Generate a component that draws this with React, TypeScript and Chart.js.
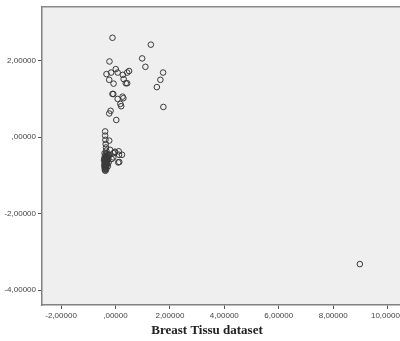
import React, { useEffect, useRef } from "react";
import { Chart, registerables } from "chart.js";

Chart.register(...registerables);

const X_TICKS = [-2, 0, 2, 4, 6, 8, 10];
const Y_TICKS = [-4, -2, 0, 2];
const TITLE = "Breast Tissu dataset";

const upperX = [-0.11, 1.3, -0.22, 0.98, 1.1, 1.75, 1.65, 1.52, 1.76, -0.33, -0.16, 0.01, 0.08, 0.27, 0.43, 0.5, -0.23, -0.07, 0.3, 0.38, 0.43, -0.11, -0.08, 0.08, 0.26, 0.29, 0.18, 0.21, -0.18, -0.23, 0.03];
const upperY = [2.6, 2.42, 1.98, 2.06, 1.84, 1.69, 1.5, 1.31, 0.79, 1.65, 1.69, 1.78, 1.69, 1.63, 1.69, 1.73, 1.5, 1.4, 1.52, 1.41, 1.41, 1.13, 1.13, 1.0, 1.06, 1.02, 0.87, 0.81, 0.69, 0.62, 0.45];

const lowerX = [-0.38, -0.38, -0.37, -0.23, -0.36, -0.35, -0.34, -0.2, -0.02, 0.12, 0.24, 0.13, 0.14, 0.1, -0.08, -0.23, -0.14, -0.25, -0.08, -0.02,
  -0.4, -0.36, -0.32, -0.39, -0.35, -0.3, -0.41, -0.37, -0.33, -0.39, -0.35, -0.31, -0.4, -0.36, -0.32, -0.38, -0.34, -0.41, -0.37, -0.33, -0.39, -0.35, -0.4, -0.36, -0.38, -0.34, -0.39, -0.37, -0.28, -0.27, -0.29, -0.26, -0.3, -0.28, -0.42, -0.33, -0.31];
const lowerY = [0.15, 0.04, -0.07, -0.09, -0.18, -0.27, -0.35, -0.33, -0.38, -0.37, -0.46, -0.46, -0.65, -0.66, -0.42, -0.48, -0.57, -0.66, -0.53, -0.4,
  -0.42, -0.45, -0.48, -0.5, -0.52, -0.55, -0.56, -0.58, -0.6, -0.62, -0.63, -0.64, -0.66, -0.68, -0.69, -0.7, -0.72, -0.73, -0.74, -0.75, -0.77, -0.78, -0.8, -0.81, -0.83, -0.84, -0.86, -0.88, -0.5, -0.58, -0.62, -0.45, -0.7, -0.76, -0.6, -0.42, -0.52];

const outlierX = [8.98];
const outlierY = [-3.32];

const fmt = (v: number) => {
  const s = Math.abs(v).toFixed(5).replace(".", ",");
  const t = s.startsWith("0,") ? s.slice(1) : s;
  return (v < 0 ? "-" : "") + t;
};

const toPts = (xs: number[], ys: number[]) => xs.map((x, i) => ({ x, y: ys[i] }));

const bgPlugin = {
  id: "plotBg",
  beforeDraw(chart: any) {
    const { ctx, chartArea } = chart;
    ctx.save();
    ctx.fillStyle = "#efefef";
    ctx.fillRect(chartArea.left, chartArea.top, chartArea.right - chartArea.left, chartArea.bottom - chartArea.top);
    ctx.restore();
  },
  afterDraw(chart: any) {
    const { ctx, chartArea } = chart;
    ctx.save();
    ctx.strokeStyle = "#8a8a8a";
    ctx.lineWidth = 1.5;
    ctx.beginPath();
    ctx.moveTo(chartArea.left, chartArea.top);
    ctx.lineTo(chartArea.right, chartArea.top);
    ctx.lineTo(chartArea.right, chartArea.bottom);
    ctx.stroke();
    ctx.restore();
  },
};

export default function App() {
  const ref = useRef<HTMLCanvasElement>(null);
  useEffect(() => {
    if (!ref.current) return;
    const allPts = [...toPts(upperX, upperY), ...toPts(lowerX, lowerY), ...toPts(outlierX, outlierY)];
    const chart = new Chart(ref.current, {
      type: "scatter",
      data: {
        datasets: [
          {
            data: allPts,
            pointRadius: 2.8,
            pointBorderWidth: 1,
            pointBorderColor: "#3a3a3a",
            pointBackgroundColor: "rgba(0,0,0,0)",
            pointHoverRadius: 2.8,
          },
        ],
      },
      options: {
        responsive: false,
        animation: false,
        layout: { padding: { top: 6, left: 0, right: 0, bottom: 0 } },
        plugins: {
          legend: { display: false },
          tooltip: { enabled: false },
          title: {
            display: true,
            position: "bottom",
            text: TITLE,
            color: "#222",
            font: { family: "'Liberation Serif', serif", size: 13, weight: "bold" },
            padding: { top: 0, bottom: 3 },
          },
        },
        scales: {
          x: {
            type: "linear",
            min: -2.7,
            max: 10.83,
            afterBuildTicks: (s: any) => {
              s.ticks = X_TICKS.map((v) => ({ value: v }));
            },
            afterFit: (s: any) => {
              s.height = 17.4;
            },
            grid: { display: true, drawOnChartArea: false, drawTicks: true, tickLength: 4, color: "#555" },
            border: { display: true, color: "#808080", width: 1.5 },
            ticks: {
              padding: 2,
              maxRotation: 0,
              autoSkip: false,
              color: "#444",
              font: { family: "'Liberation Sans', Arial, sans-serif", size: 8 },
              callback: (v: any) => fmt(Number(v)),
            },
          },
          y: {
            type: "linear",
            min: -4.39,
            max: 3.41,
            afterBuildTicks: (s: any) => {
              s.ticks = Y_TICKS.map((v) => ({ value: v }));
            },
            afterFit: (s: any) => {
              s.width = 42;
            },
            grid: { display: true, drawOnChartArea: false, drawTicks: true, tickLength: 4, color: "#555" },
            border: { display: true, color: "#808080", width: 1.5 },
            ticks: {
              padding: 2,
              autoSkip: false,
              color: "#444",
              font: { family: "'Liberation Sans', Arial, sans-serif", size: 8 },
              callback: (v: any) => fmt(Number(v)),
            },
          },
        },
      },
      plugins: [bgPlugin],
    } as any);
    return () => chart.destroy();
  }, []);
  return (
    <div style={{ position: "fixed", left: 0, top: 0, width: 400, height: 341, overflow: "hidden", background: "#fff" }}>
      <canvas ref={ref} width={414} height={341} style={{ display: "block", width: 414, height: 341 }} />
    </div>
  );
}
